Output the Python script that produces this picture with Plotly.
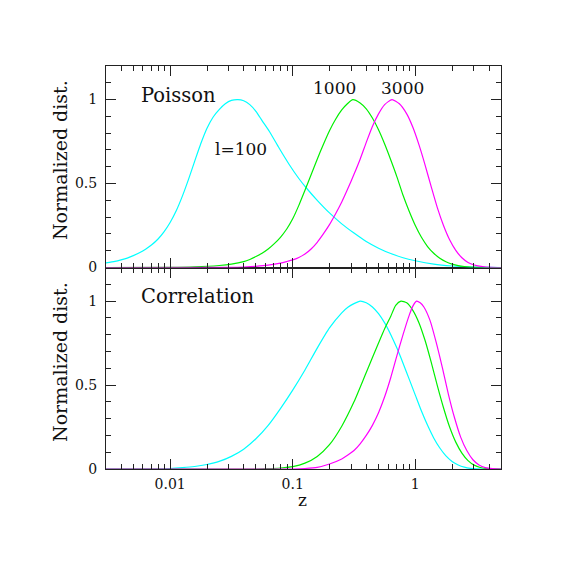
import plotly.graph_objects as go
import math

# ---- data (z, normalized distribution) ----
# Top panel: Poisson
poi_l100_z = [0.003, 0.00355, 0.00398, 0.00447, 0.00501, 0.00562, 0.00631, 0.00708, 0.00794,
              0.00891, 0.0100, 0.01122, 0.01259, 0.01413, 0.01585, 0.01778, 0.01995, 0.02239,
              0.02512, 0.02818, 0.03162, 0.03573, 0.03981, 0.04467, 0.05012, 0.05623, 0.06457,
              0.07762, 0.09333, 0.1122, 0.1288, 0.1585, 0.1995, 0.2512, 0.3162, 0.3981,
              0.5012, 0.6310, 0.7943, 1.0, 1.413, 1.995, 2.818, 3.981, 5.0]
poi_l100_v = [0.027, 0.036, 0.045, 0.056, 0.071, 0.088, 0.109, 0.135, 0.168,
              0.212, 0.268, 0.338, 0.425, 0.525, 0.632, 0.737, 0.828, 0.895,
              0.94, 0.975, 0.995, 1.0, 0.993, 0.97, 0.93, 0.875, 0.81,
              0.71, 0.615, 0.53, 0.475, 0.40, 0.325, 0.26, 0.205, 0.155,
              0.115, 0.083, 0.058, 0.04, 0.02, 0.009, 0.003, 0.0005, 0.0]

poi_l1000_z = [0.003, 0.0100, 0.01585, 0.02512, 0.03162, 0.03981, 0.04467, 0.05012, 0.05623,
               0.06310, 0.07079, 0.07943, 0.08913, 0.1000, 0.1122, 0.1259, 0.1413, 0.1585,
               0.1778, 0.1995, 0.2239, 0.2512, 0.2818, 0.3090, 0.3548, 0.3981, 0.4467,
               0.5012, 0.5623, 0.6310, 0.7079, 0.7943, 0.8913, 1.0, 1.122, 1.259, 1.413,
               1.585, 1.778, 1.995, 2.239, 2.512, 3.162, 5.0]
poi_l1000_v = [0.0, 0.001, 0.004, 0.012, 0.02, 0.035, 0.048, 0.065, 0.085,
               0.11, 0.142, 0.18, 0.228, 0.29, 0.37, 0.46, 0.552, 0.645,
               0.733, 0.815, 0.883, 0.938, 0.978, 1.0, 0.98, 0.945, 0.89,
               0.82, 0.735, 0.64, 0.54, 0.43, 0.335, 0.25, 0.18, 0.125, 0.085,
               0.055, 0.034, 0.02, 0.011, 0.006, 0.0015, 0.0]

poi_l3000_z = [0.003, 0.03162, 0.03981, 0.05012, 0.06310, 0.07943, 0.08913, 0.1000, 0.1122,
               0.1259, 0.1413, 0.1585, 0.1778, 0.1995, 0.2239, 0.2512, 0.2818, 0.3162,
               0.3548, 0.3981, 0.4467, 0.5012, 0.5623, 0.6457, 0.7413, 0.8511, 0.9550,
               1.072, 1.202, 1.349, 1.514, 1.698, 1.905, 2.138, 2.399, 2.692, 3.020,
               3.548, 4.169, 5.0]
poi_l3000_v = [0.0, 0.001, 0.003, 0.007, 0.014, 0.026, 0.035, 0.045, 0.06,
               0.08, 0.11, 0.15, 0.20, 0.255, 0.32, 0.39, 0.47, 0.555,
               0.645, 0.745, 0.84, 0.915, 0.97, 1.0, 0.975, 0.915, 0.835,
               0.73, 0.61, 0.48, 0.355, 0.25, 0.165, 0.102, 0.058, 0.03, 0.015,
               0.005, 0.001, 0.0]

# Bottom panel: Correlation
cor_l100_z = [0.003, 0.00631, 0.0100, 0.01259, 0.01585, 0.01995, 0.02512, 0.03162, 0.03981,
              0.05012, 0.06310, 0.07943, 0.1000, 0.1259, 0.1585, 0.1995, 0.2512, 0.2818,
              0.3162, 0.3556, 0.3981, 0.4467, 0.5012, 0.5623, 0.6310, 0.7079, 0.7943,
              0.8913, 1.0, 1.122, 1.259, 1.413, 1.585, 1.778, 1.995, 2.239, 2.512,
              2.818, 3.162, 3.548, 5.0]
cor_l100_v = [0.0, 0.0, 0.003, 0.008, 0.015, 0.027, 0.045, 0.075, 0.118,
              0.18, 0.26, 0.36, 0.47, 0.59, 0.72, 0.84, 0.93, 0.963,
              0.985, 1.0, 0.99, 0.965, 0.925, 0.87, 0.80, 0.72, 0.63,
              0.535, 0.44, 0.345, 0.26, 0.185, 0.125, 0.078, 0.045, 0.024, 0.011,
              0.004, 0.001, 0.0, 0.0]

cor_l1000_z = [0.003, 0.05012, 0.06310, 0.07943, 0.1000, 0.1259, 0.1585, 0.1995, 0.2512,
               0.3162, 0.3981, 0.5012, 0.5623, 0.6310, 0.6918, 0.7638, 0.8511, 0.9550,
               1.072, 1.202, 1.349, 1.514, 1.698, 1.905, 2.138, 2.399, 2.692, 3.020,
               3.388, 3.981, 5.0]
cor_l1000_v = [0.0, 0.0, 0.002, 0.006, 0.014, 0.035, 0.075, 0.145, 0.255,
               0.40, 0.575, 0.75, 0.835, 0.91, 0.975, 1.0, 0.99, 0.945,
               0.87, 0.765, 0.635, 0.495, 0.365, 0.25, 0.16, 0.095, 0.05, 0.023,
               0.009, 0.002, 0.0]

cor_l3000_z = [0.003, 0.1000, 0.1259, 0.1585, 0.1995, 0.2512, 0.2818, 0.3162, 0.3548,
               0.3981, 0.4467, 0.5012, 0.5623, 0.6310, 0.7079, 0.7943, 0.8913, 0.9550,
               1.023, 1.096, 1.175, 1.318, 1.479, 1.660, 1.862, 2.089, 2.344, 2.630,
               2.951, 3.311, 3.715, 4.266, 5.0]
cor_l3000_v = [0.0, 0.0, 0.003, 0.01, 0.03, 0.06, 0.083, 0.11, 0.15,
               0.20, 0.26, 0.335, 0.43, 0.545, 0.675, 0.80, 0.915, 0.97,
               1.0, 0.99, 0.965, 0.885, 0.755, 0.605, 0.445, 0.305, 0.19, 0.11,
               0.055, 0.024, 0.008, 0.002, 0.0]

x_tick_vals = [0.01, 0.1, 1]
x_tick_text = ["0.01", "0.1", "1"]
x_minor_vals = [0.003, 0.004, 0.005, 0.006, 0.007, 0.008, 0.009,
                0.02, 0.03, 0.04, 0.05, 0.06, 0.07, 0.08, 0.09,
                0.2, 0.3, 0.4, 0.5, 0.6, 0.7, 0.8, 0.9, 2, 3, 4, 5]
y_tick_vals = [0, 0.5, 1]
y_tick_text = ["0", "0.5", "1"]

CYAN, GREEN, MAGENTA = "#00FFFF", "#00F000", "#FF00FF"
FONT = "DejaVu Serif"
AX = "#222222"

fig = go.Figure()
line_kw = dict(mode="lines", line_shape="spline", showlegend=False, hoverinfo="skip")
series = [
    (poi_l100_z, poi_l100_v, CYAN, "x2", "y2"),
    (poi_l1000_z, poi_l1000_v, GREEN, "x2", "y2"),
    (poi_l3000_z, poi_l3000_v, MAGENTA, "x2", "y2"),
    (cor_l100_z, cor_l100_v, CYAN, "x", "y"),
    (cor_l1000_z, cor_l1000_v, GREEN, "x", "y"),
    (cor_l3000_z, cor_l3000_v, MAGENTA, "x", "y"),
]
for xs, ys, col, xa, ya in series:
    fig.add_trace(go.Scatter(x=xs, y=ys, xaxis=xa, yaxis=ya,
                             line=dict(color=col, width=1.2, smoothing=0.6), **line_kw))

xr = [math.log10(0.003), math.log10(5.0)]

def xaxis(anchor, labels):
    return dict(type="log", range=xr, anchor=anchor, showline=True, linecolor=AX, linewidth=1,
                mirror="allticks", ticks="inside", ticklen=10, tickcolor=AX, tickwidth=1,
                tickvals=x_tick_vals, ticktext=x_tick_text, showticklabels=labels,
                showgrid=False, zeroline=False, ticklabelstandoff=2,
                tickfont=dict(family=FONT, size=14, color="#111"),
                minor=dict(tickvals=x_minor_vals, ticks="inside", ticklen=5,
                           tickcolor=AX, tickwidth=1, showgrid=False))

def yaxis(anchor, domain):
    return dict(range=[0, 1.2], domain=domain, anchor=anchor, showline=True, linecolor=AX,
                linewidth=1, mirror="allticks", ticks="inside", ticklen=10, tickcolor=AX,
                tickwidth=1, tickvals=y_tick_vals, ticktext=y_tick_text, showgrid=False,
                zeroline=False, ticklabelstandoff=5,
                tickfont=dict(family=FONT, size=14, color="#111"),
                minor=dict(dtick=0.1, ticks="inside", ticklen=5, tickcolor=AX,
                           tickwidth=1, showgrid=False))

fig.update_layout(
    width=559, height=559,
    margin=dict(l=98, r=66, t=58, b=98),
    paper_bgcolor="white", plot_bgcolor="white",
    xaxis=xaxis("y", True),
    xaxis2=xaxis("y2", False),
    yaxis=yaxis("x", [0, 0.5]),
    yaxis2=yaxis("x2", [0.5, 1]),
)

def txt(s, x, y, size=18, xanchor="left", angle=0):
    fig.add_annotation(text=s, x=x, y=y, xref="paper", yref="paper", showarrow=False,
                       xanchor=xanchor, yanchor="middle", textangle=angle,
                       font=dict(family=FONT, size=size, color="#111"))

txt("Poisson", 0.0835, 0.9256, size=19.5)
txt("1000", 0.5190, 0.9454, size=17)
txt("3000", 0.6911, 0.9454, size=17)
txt("l=100", 0.2709, 0.794, size=17)
txt("Correlation", 0.0835, 0.4268, size=19.5)
txt("Normalized dist.", -0.1165, 0.7667, size=19, xanchor="center", angle=-90)
txt("Normalized dist.", -0.1165, 0.2655, size=19, xanchor="center", angle=-90)
txt("z", 0.4987, -0.0769, size=17, xanchor="center")

fig.write_html("out.html")
